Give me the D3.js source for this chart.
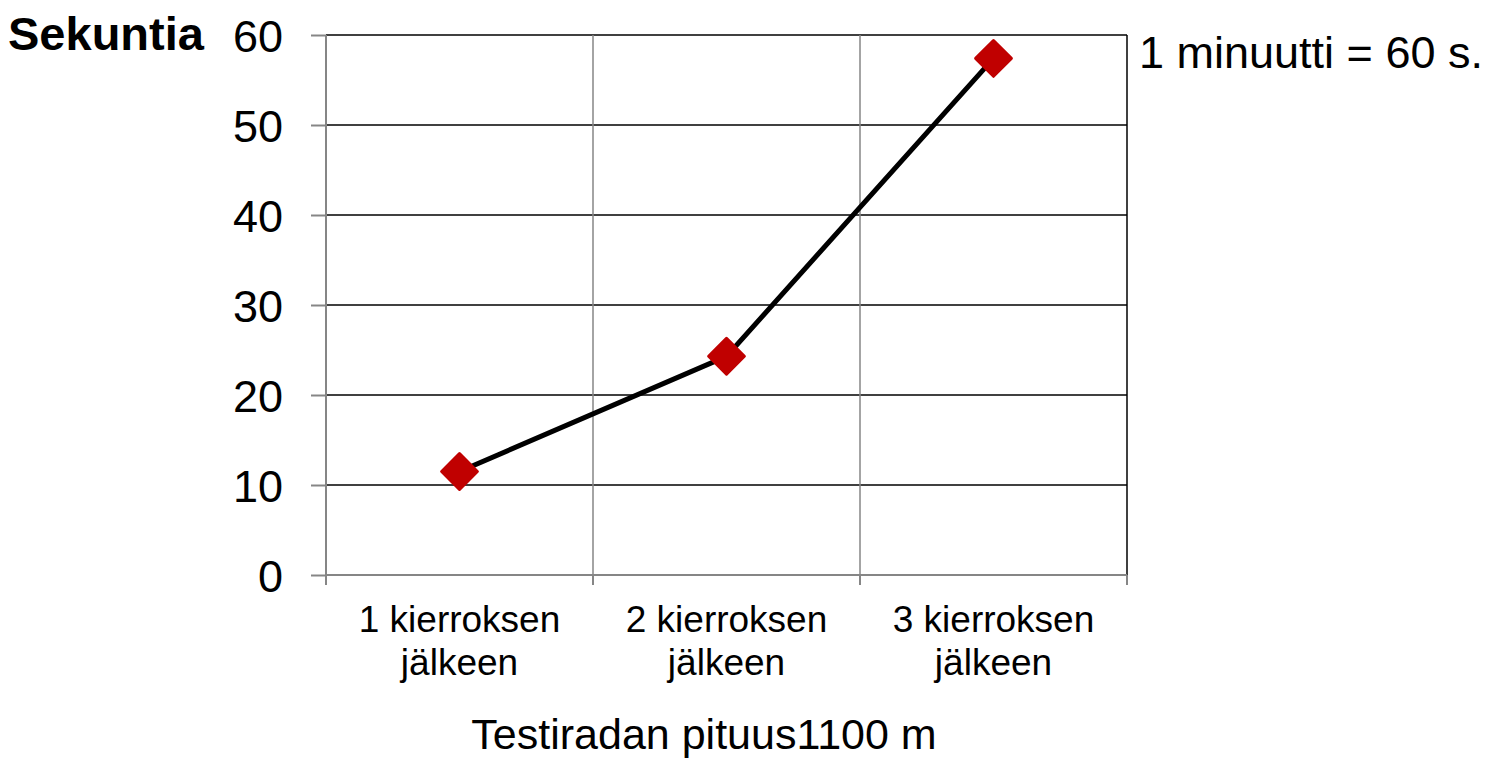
<!DOCTYPE html>
<html>
<head>
<meta charset="utf-8">
<script src="https://cdn.jsdelivr.net/npm/d3@7"></script>
<style>
  html, body { margin: 0; padding: 0; background: #fff; }
  svg { display: block; font-family: "Liberation Sans", Arial, sans-serif; }
</style>
</head>
<body>
<svg id="chart" width="1486" height="758"></svg>
<script>
// Data
const categories = [['1 kierroksen', 'jälkeen'], ['2 kierroksen', 'jälkeen'], ['3 kierroksen', 'jälkeen']];
const seconds = [11.5, 24.3, 57.4];
const yTicks = [0, 10, 20, 30, 40, 50, 60];

const yLabel = 'Sekuntia';
const xTitle = 'Testiradan pituus1100 m';
const note = '1 minuutti = 60 s.';

const PLOT = { left: 326, right: 1127, top: 35, bottom: 575 };

const svg = d3.select('#chart');

const x = d3.scaleBand()
  .domain(d3.range(categories.length))
  .range([PLOT.left, PLOT.right])
  .padding(0);

const y = d3.scaleLinear()
  .domain([0, 60])
  .range([PLOT.bottom, PLOT.top]);

const GRAY = '#868686';

// horizontal gridlines (black)
svg.append('g')
  .selectAll('line')
  .data(yTicks.filter(d => d > 0))
  .join('line')
  .attr('x1', PLOT.left).attr('x2', PLOT.right)
  .attr('y1', d => y(d)).attr('y2', d => y(d))
  .attr('stroke', '#000').attr('stroke-width', 1.5);

// vertical gridlines (gray) between categories
svg.append('g')
  .selectAll('line')
  .data(d3.range(1, categories.length))
  .join('line')
  .attr('x1', d => x(d)).attr('x2', d => x(d))
  .attr('y1', PLOT.top).attr('y2', PLOT.bottom)
  .attr('stroke', GRAY).attr('stroke-width', 1.5);

// right border
svg.append('line')
  .attr('x1', PLOT.right).attr('x2', PLOT.right)
  .attr('y1', PLOT.top).attr('y2', PLOT.bottom)
  .attr('stroke', '#000').attr('stroke-width', 1.5);

// y axis
const yAxis = svg.append('g')
  .attr('transform', `translate(${PLOT.left},0)`)
  .call(d3.axisLeft(y).tickValues(yTicks).tickSize(15).tickPadding(28).tickFormat(d3.format('d')));
yAxis.select('.domain').attr('stroke', GRAY).attr('stroke-width', 2)
  .attr('d', `M0,${PLOT.top}V${PLOT.bottom + 10}`);
yAxis.selectAll('.tick line').attr('stroke', GRAY).attr('stroke-width', 2);
yAxis.selectAll('.tick text')
  .attr('font-size', 45).attr('fill', '#000')
  .attr('font-family', '"Liberation Sans", Arial, sans-serif')
  .attr('dy', '0.36em');

// x axis
const boundaries = d3.range(categories.length + 1).map(i => PLOT.left + i * x.bandwidth());
const xAxisG = svg.append('g');
xAxisG.append('line')
  .attr('x1', PLOT.left).attr('x2', PLOT.right)
  .attr('y1', PLOT.bottom).attr('y2', PLOT.bottom)
  .attr('stroke', GRAY).attr('stroke-width', 2);
xAxisG.selectAll('.xt')
  .data(boundaries)
  .join('line')
  .attr('class', 'xt')
  .attr('x1', d => d).attr('x2', d => d)
  .attr('y1', PLOT.bottom).attr('y2', PLOT.bottom + 10)
  .attr('stroke', GRAY).attr('stroke-width', 2);

const xLabels = xAxisG.selectAll('.xl')
  .data(categories)
  .join('text')
  .attr('class', 'xl')
  .attr('text-anchor', 'middle')
  .attr('font-size', 37)
  .attr('fill', '#000');
xLabels.each(function(d, i) {
  const t = d3.select(this);
  d.forEach((line, j) => {
    t.append('tspan')
      .attr('x', x(i) + x.bandwidth() / 2)
      .attr('y', 632 + j * 43)
      .text(line);
  });
});

// line
const lineGen = d3.line()
  .x((d, i) => x(i) + x.bandwidth() / 2)
  .y(d => y(d));
svg.append('path')
  .datum(seconds)
  .attr('fill', 'none')
  .attr('stroke', '#000')
  .attr('stroke-width', 5)
  .attr('d', lineGen);

// diamond markers
svg.append('g')
  .selectAll('path')
  .data(seconds)
  .join('path')
  .attr('d', d3.symbol(d3.symbolSquare, 640))
  .attr('transform', (d, i) => `translate(${x(i) + x.bandwidth() / 2},${y(d)}) rotate(45)`)
  .attr('fill', '#c00000')
  .attr('stroke', '#c00000')
  .attr('stroke-width', 3)
  .attr('stroke-linejoin', 'round');

// texts
svg.append('text')
  .attr('x', 8).attr('y', 50)
  .attr('font-size', 47).attr('font-weight', 'bold')
  .attr('fill', '#000')
  .text(yLabel);

svg.append('text')
  .attr('x', 1139).attr('y', 68)
  .attr('font-size', 45)
  .attr('fill', '#000')
  .text(note);

svg.append('text')
  .attr('x', 704).attr('y', 749)
  .attr('text-anchor', 'middle')
  .attr('font-size', 43)
  .attr('fill', '#000')
  .text(xTitle);
</script>
</body>
</html>
